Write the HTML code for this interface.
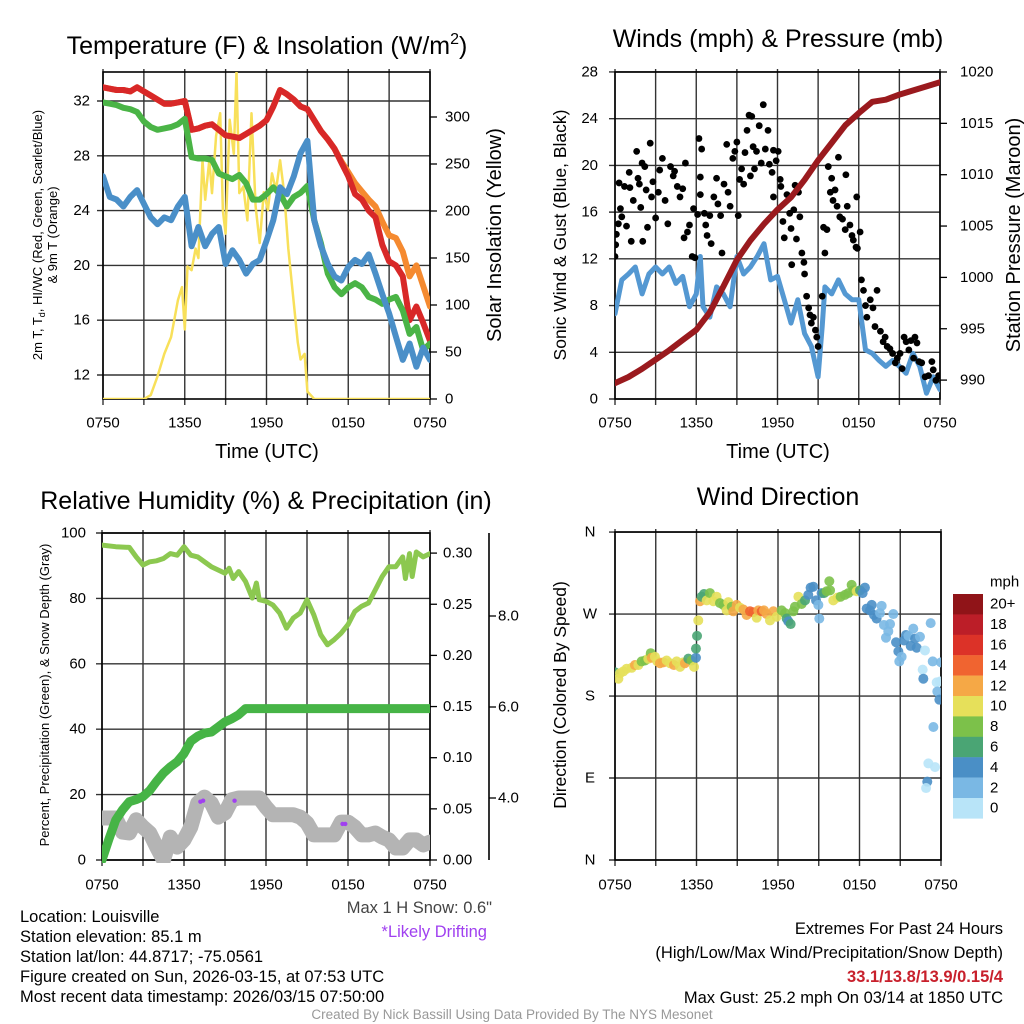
<!DOCTYPE html>
<html><head><meta charset="utf-8"><style>
body{margin:0;background:#fff}
svg{display:block;font-family:"Liberation Sans",sans-serif}
</style></head><body>
<svg id="fig" width="1024" height="1024" viewBox="0 0 1024 1024">
<defs>
<clipPath id="c1"><rect x="103" y="72" width="327" height="327"/></clipPath>
<clipPath id="c2"><rect x="615" y="72" width="325" height="327"/></clipPath>
<clipPath id="c3"><rect x="102" y="533" width="328" height="330"/></clipPath>
<clipPath id="c4"><rect x="615" y="532" width="326" height="328"/></clipPath>
</defs>
<g font-size="25" text-anchor="middle" fill="#000">
<text x="267" y="54">Temperature (F) &amp; Insolation (W/m<tspan font-size="16" dy="-10">2</tspan><tspan dy="10">)</tspan></text>
<text x="778" y="47">Winds (mph) &amp; Pressure (mb)</text>
<text x="266" y="509">Relative Humidity (%) &amp; Precipitation (in)</text>
<text x="778" y="505">Wind Direction</text>
</g>
<g font-size="20" text-anchor="middle">
<text x="267" y="458">Time (UTC)</text>
<text x="778" y="458">Time (UTC)</text>
<text transform="translate(501,235) rotate(-90)">Solar Insolation (Yellow)</text>
<text transform="translate(1020,235) rotate(-90)">Station Pressure (Maroon)</text>
<text transform="translate(566,235) rotate(-90)" font-size="17.5">Sonic Wind &amp; Gust (Blue, Black)</text>
<text transform="translate(566,695) rotate(-90)" font-size="17.5">Direction (Colored By Speed)</text>
</g>
<g font-size="13" text-anchor="middle">
<text transform="translate(42,235) rotate(-90)">2m T, T<tspan font-size="9" dy="3">d</tspan><tspan dy="-3">, HI/WC (Red, Green, Scarlet/Blue)</tspan></text>
<text transform="translate(57,235) rotate(-90)">&amp; 9m T (Orange)</text>
<text transform="translate(49,695) rotate(-90)">Percent, Precipitation (Green), &amp; Snow Depth (Gray)</text>
</g>
<g id="layer"></g>
<g font-size="16.5" fill="#000">
<text x="20" y="922">Location: Louisville</text>
<text x="20" y="942">Station elevation: 85.1 m</text>
<text x="20" y="962">Station lat/lon: 44.8717; -75.0561</text>
<text x="20" y="982">Figure created on Sun, 2026-03-15, at 07:53 UTC</text>
<text x="20" y="1002">Most recent data timestamp: 2026/03/15 07:50:00</text>
</g>
<text x="492" y="913" font-size="16.5" fill="#444" text-anchor="end">Max 1 H Snow: 0.6"</text>
<text x="487" y="937" font-size="16.5" fill="#a040f0" text-anchor="end">*Likely Drifting</text>
<g font-size="16.5" text-anchor="end">
<text x="1003" y="934">Extremes For Past 24 Hours</text>
<text x="1003" y="958">(High/Low/Max Wind/Precipitation/Snow Depth)</text>
<text x="1003" y="982" fill="#c8202c" font-weight="bold">33.1/13.8/13.9/0.15/4</text>
<text x="1003" y="1003">Max Gust: 25.2 mph On 03/14 at 1850 UTC</text>
</g>
<text x="512" y="1019" font-size="13.5" fill="#999" text-anchor="middle">Created By Nick Bassill Using Data Provided By The NYS Mesonet</text>
</svg>
<script>
// ---------- data ----------
const hours=[0,0.5,1,1.5,2,2.5,3,3.5,4,4.5,5,5.5,6,6.5,7,7.5,8,8.5,9,9.5,10,10.5,11,11.5,12,12.5,13,13.5,14,14.5,15,15.5,16,16.5,17,17.5,18,18.5,19,19.5,20,20.5,21,21.5,22,22.5,23,23.5,24];
const xTickLabels=["0750","1350","1950","0150","0750"];
const tempRed=[33.0,32.9,32.8,32.8,32.7,33.0,32.7,32.4,32.1,31.8,31.8,31.9,32.0,29.9,30.0,30.2,30.3,29.9,29.5,29.4,29.3,29.6,29.9,30.2,30.6,31.6,32.8,32.5,32.1,31.6,31.4,30.6,29.8,29.2,28.5,27.5,26.5,25.2,24.8,24.0,23.5,21.5,20.3,20.0,19.2,16.0,17.0,15.8,14.5];
const temp9m=[33.0,32.9,32.8,32.8,32.7,33.0,32.7,32.4,32.1,31.8,31.8,31.9,32.0,29.9,30.0,30.2,30.3,29.9,29.5,29.4,29.3,29.6,29.9,30.2,30.6,31.6,32.8,32.5,32.1,31.6,31.4,30.6,29.8,29.2,28.5,27.6,26.8,26.0,25.4,24.8,24.3,23.2,22.2,22.0,21.0,19.2,20.0,18.5,17.0];
const dewGreen=[31.9,31.8,31.7,31.5,31.4,31.2,30.5,30.1,29.9,30.0,30.1,30.3,30.7,27.9,27.8,27.8,27.7,26.7,26.5,26.3,26.6,26.0,24.8,24.8,25.2,25.7,25.2,24.3,25.0,25.3,25.8,23.3,21.6,19.4,18.4,17.9,18.4,18.7,18.4,17.7,17.5,17.2,17.5,17.7,16.7,15.0,15.5,13.8,14.3];
const hiwcBlue=[26.5,25.0,24.8,24.3,25.0,25.5,24.5,23.5,23.0,23.5,23.3,24.3,25.0,21.4,22.8,21.4,22.3,22.8,20.1,21.1,20.4,19.4,20.1,20.4,21.8,23.3,25.7,25.2,26.5,28.2,29.1,23.3,21.4,20.1,19.2,18.9,19.9,20.4,20.1,20.8,19.4,17.9,16.5,14.8,13.1,14.3,12.6,14.0,13.1];
const insTimes=[0,3,3.5,4,4.5,5,5.5,5.8,6,6.2,6.5,6.8,7,7.3,7.5,7.8,8,8.3,8.6,8.8,9,9.3,9.6,9.8,10,10.3,10.6,10.9,11.2,11.5,11.8,12.1,12.4,12.7,13,13.3,13.6,14,14.3,14.5,14.8,15,15.5,24];
const insolation=[0,0,4,24,48,66,105,119,74,141,137,160,150,254,212,254,219,280,304,200,176,297,261,348,219,226,190,304,205,166,220,201,240,222,254,219,160,102,60,42,48,8,0,0];
const tempTicks=[12,16,20,24,28,32];
const insTicks=[0,50,100,150,200,250,300];

const presHours=[0,1,2,3,4,5,6,7,8,9,10,11,12,13,14,15,16,17,18,19,20,21,22,23,24];
const pressure=[989.7,990.3,991.1,992.0,992.9,993.9,994.9,996.6,999.1,1001.7,1003.6,1005.2,1006.6,1007.8,1009.5,1011.4,1013.1,1014.8,1016.0,1017.1,1017.3,1017.8,1018.2,1018.6,1019.0];
const windHours=[0,0.5,1,1.5,2,2.5,3,3.5,4,4.5,5,5.5,6,6.3,6.5,7,7.5,8,8.5,9,9.5,10,10.5,11,11.5,12,12.5,13,13.5,14,14.5,15,15.3,15.5,16,16.5,17,17.5,18,18.5,19,19.5,20,20.5,21,21.5,22,22.5,23,23.5,24];
const windSpeed=[7.3,10.2,10.7,11.3,9.0,10.7,11.3,10.7,11.3,9.9,10.5,7.9,9.0,12.2,7.9,7.0,9.6,9.0,7.9,12.2,10.7,11.3,12.2,13.3,10.2,10.5,8.5,6.5,8.5,5.6,4.5,1.9,6.2,9.6,9.0,10.2,9.0,8.5,8.5,4.2,3.9,3.3,2.8,3.3,2.8,2.2,3.9,2.8,0.5,1.9,0.8];
const gustTimes=[0,0.05,0.1,0.25,0.3,0.4,0.5,0.7,0.85,1.05,1.1,1.2,1.35,1.6,1.7,1.8,1.9,2,2.05,2.2,2.3,2.4,2.6,2.7,2.8,3.0,3.2,3.3,3.5,3.7,3.9,4.1,4.3,4.4,4.6,4.8,5,5.2,5.1,5.35,5.5,5.7,5.8,5.9,6.1,6.2,6.4,6.3,6.3,6.6,6.7,6.8,7,7.1,7.3,7.5,7.6,7.8,7.9,8.05,8.25,8.35,8.5,8.7,8.85,9,9.1,9.2,9.35,9.5,9.6,9.75,9.9,10.1,10,10.2,10.3,10.45,10.65,10.8,10.95,11.1,11.3,11.4,11.6,11.7,11.9,12.05,12.2,12.25,11.7,12.4,12.5,12.7,12.9,13,13.05,13.2,13.3,13.4,13.55,13.65,13.8,13.95,14,14.15,14.3,14.4,14.5,14.65,14.8,14.9,15,15.3,15.4,15.5,15.65,15.75,15.9,16,16.1,16.25,16.4,16.5,16.6,16.8,17,17.05,17.15,17.35,17.5,17.6,17.8,17.85,17.9,18.1,18.2,18.35,18.5,18.6,18.85,19.05,19.2,19.35,19.6,19.8,19.95,20.1,20.3,20.5,20.7,20.85,21.05,21.2,21.35,21.5,21.7,21.85,22.05,22.15,22.3,22.45,22.65,22.9,23.15,23.4,23.5,23.7,23.9];
const gustSpeed=[12.2,13.2,14.1,15,18.5,16.3,15.6,18.2,14.8,19.4,18.1,13.5,17,21.2,18.9,18.4,16.4,20.2,13.5,19.9,17.9,14.7,21.9,17.3,18.6,15.5,17.7,19.6,20.6,17,15,19.9,19.1,19.5,18.2,17.3,18,20.2,13.8,14.3,14.9,12.2,16.3,12.1,15.8,22.3,21.4,19,17.5,15.9,14.9,14,15.7,13.3,17.3,18.9,16.7,15.7,12.5,18.4,21.8,17.7,16.5,20.6,21.2,22,15.7,18.8,19.7,18.4,21.1,23,24.3,24.2,19.1,21.6,19.7,21.2,23.4,20.2,25.2,21.4,23,20.1,19.4,21.3,20.4,21.2,18.8,18.2,17.3,15.2,13.8,17.5,15.9,14.6,11.5,16.2,18.3,13.7,17.7,15.6,12.5,11.7,10.7,8.8,7.8,7.2,6.5,7,5.9,5.3,4.5,8.8,14.7,12.5,14.5,19.9,17.7,18.9,17,17.9,16.5,20.7,15.6,15.4,14.5,19.2,16.5,14.9,14,13.6,13,17.3,12.9,14.3,10.2,9.3,8,7,8.5,7.8,6.2,9.3,5.8,4.9,5.3,4.5,4.3,3.9,3.1,3.5,3.9,2.6,5.3,4.9,4.2,5,3.5,5.3,4.8,3.2,3.1,1.9,2,3.2,2.5,1.6,2];
const windTicks=[0,4,8,12,16,20,24,28];
const presTicks=[990,995,1000,1005,1010,1015,1020];

const rhHours=[0,1,2,2.5,3,3.5,4,4.5,5,5.5,6,6.5,7,7.5,8,8.5,9,9.3,9.6,10,10.5,11,11.3,11.5,12,12.5,13,13.5,14,14.5,15,15.5,16,16.5,17,17.5,18,18.5,19,19.5,20,20.5,21,21.5,22,22.2,22.5,22.7,23,23.5,24];
const humidity=[96.3,95.8,95.6,92.7,90.2,91.2,91.5,92.2,93.7,93.2,95.8,93.2,92.7,91.2,89.7,88.7,87.7,89.2,86.1,88.2,85.2,80.1,84.7,79.6,79.1,78,75.5,70.9,74,75.5,79.6,75,68.9,65.8,67.4,69.4,72,76,77.6,78.6,82.6,86.7,89.7,89.7,92.7,86.1,93.7,86.7,94.2,92.7,93.7];
const precipHours=[0,0.5,1,1.5,2,2.5,3,3.5,4,4.5,5,5.5,6,6.5,7,7.5,8,8.5,9,9.5,10,10.5,24];
const precip=[0,0.02,0.039,0.049,0.057,0.059,0.062,0.068,0.077,0.085,0.091,0.096,0.104,0.116,0.121,0.124,0.125,0.13,0.135,0.138,0.142,0.148,0.148];
const snowDepth=[3.56,3.56,3.56,3.25,3.23,3.52,3.36,3.23,2.92,2.64,3.14,2.92,3.08,3.36,3.89,4.02,3.89,3.58,3.67,3.96,4.0,4.0,4.0,4.0,3.8,3.63,3.63,3.63,3.63,3.58,3.45,3.19,3.19,3.19,3.19,3.47,3.47,3.36,3.19,3.19,3.23,3.14,3.08,2.90,2.90,3.08,3.08,2.97,3.03];
const driftTimes=[7.2,7.4,9.7,17.6,17.8];
const driftDepth=[3.92,3.94,3.94,3.43,3.43];
const rhTicks=[0,20,40,60,80,100];
const precipTicks=[0,0.05,0.10,0.15,0.20,0.25,0.30];
const snowTicks=[4,6,8];

const dirTimes=[0,.25,.37,.61,.86,1.23,1.47,1.72,1.96,2.21,2.45,2.63,2.70,2.94,3.12,3.31,3.56,3.80,4.05,4.34,4.54,4.79,5.03,5.15,5.40,5.64,5.82,5.96,5.96,6.04,6.13,6.26,6.38,6.55,6.75,6.99,7.24,7.48,7.73,7.98,8.22,8.34,8.59,8.71,8.96,9.20,9.45,9.69,9.94,10.18,10.43,10.55,10.80,10.97,11.17,11.41,11.66,11.90,12.27,12.52,12.64,12.76,12.93,13.13,13.25,13.50,13.74,13.99,14.23,14.40,14.60,14.80,14.97,15.04,15.21,15.39,15.58,15.78,15.83,16.07,16.37,16.61,16.93,17.18,17.42,17.55,17.79,18.04,18.23,18.40,18.53,18.77,18.90,19.07,19.26,19.51,19.63,19.80,19.95,20.12,20.25,20.49,20.69,20.86,20.93,21.10,21.28,21.42,21.60,21.77,21.96,22.09,22.21,22.45,22.82,22.65,22.70,23.24,23.39,23.68,23.93,23.73,23.88,24.0,23.44,23.07,23.56,22.99,22.90];
const dirDegrees=[206,199,205,207,210,211,214,214,218,219,221,227,222,223,218,216,217,219,216,214,218,212,217,216,221,219,212,222,232,246,263,284,289,292,285,293,284,289,282,280,274,283,278,273,280,277,275,269,273,272,266,274,273,274,270,263,273,267,274,271,265,262,259,273,278,289,281,285,291,299,300,285,280,265,293,293,295,306,296,285,288,289,291,293,302,296,295,296,293,299,276,274,280,269,265,271,279,258,244,251,259,270,239,229,218,223,241,247,246,235,254,243,233,245,230,209,199,260,218,195,196,185,176,217,146,106,102,86,79];
const dirSpeeds=[6,10,10,10,10,10,12,10,8,8,10,8,12,10,10,12,12,10,10,12,10,10,10,12,6,8,10,4,6,6,10,12,6,6,10,8,10,10,8,8,10,10,8,12,12,10,12,12,14,14,10,12,14,12,12,10,12,10,8,8,6,4,6,8,8,10,8,6,4,4,4,4,2,2,4,6,8,8,8,10,10,8,8,8,8,8,10,6,4,4,4,4,4,4,4,2,2,2,2,2,2,2,4,4,2,2,4,4,2,4,2,4,4,2,0,0,4,2,2,0,0,2,4,2,2,0,0,4,0];
const dirTickLabels=["N","E","S","W","N"];
const dirTickDegrees=[0,90,180,270,360];
const speedBinLabels=["20+","18","16","14","12","10","8","6","4","2","0"];

// ---------- rendering ----------
const NS="http://www.w3.org/2000/svg";
const layer=document.getElementById('layer');
const speedColors=["#b8e4f8","#7ab8e4","#4a8fc6","#4aa574","#7cc14a","#e6e05a","#f5a846","#f06430","#dc3228","#bc1e28","#901418"];
function mk(tag,attrs,parent){const e=document.createElementNS(NS,tag);for(const k in attrs)e.setAttribute(k,attrs[k]);(parent||layer).appendChild(e);return e;}
function txt(x,y,s,size,anchor,parent){const e=mk('text',{x:x,y:y,'font-size':size,'text-anchor':anchor,'dominant-baseline':'central'},parent);e.textContent=s;return e;}
function pathD(ts,vs,fx,fy){return ts.map((t,i)=>(i?'L':'M')+fx(t).toFixed(1)+','+fy(vs[i]).toFixed(1)).join('');}

const panels=[
 {name:'temp',x0:103,x1:430,y0:72,y1:399,lab:423},
 {name:'wind',x0:615,x1:940,y0:72,y1:399,lab:423},
 {name:'humidity',x0:102,x1:430,y0:533,y1:860,lab:885},
 {name:'direction',x0:615,x1:941,y0:532,y1:860,lab:885}
];
function xs(p){return t=>p.x0+t*(p.x1-p.x0)/24;}
const X=panels.map(xs);
const yT=v=>101+(32-v)*13.7, yI=w=>399-w*0.94;
const yW=v=>399-v*11.68, yP=p=>72+(1020-p)*10.27;
const yR=v=>860-v*3.27, yPr=p=>860-p*1023, yS=s=>798-(s-4)*45.5;
const yD=d=>860-d*0.911;
const hGrid=[tempTicks.map(yT),windTicks.map(yW),rhTicks.map(yR),dirTickDegrees.map(yD)];

panels.forEach((p,pi)=>{
  const g=mk('g',{});
  
  
  for(let h=0;h<=24;h+=3){const x=X[pi](h);
    const l=mk('line',{x1:x,x2:x,y1:p.y0-3,y2:p.y1+6,stroke:'#333','stroke-width':1.4},g);
    
    
  }
  hGrid[pi].forEach(y=>{
    const l=mk('line',{x1:p.x0-6,x2:p.x1,y1:y,y2:y,stroke:'#333','stroke-width':1.4},g);
    
    
  });
  const r=mk('rect',{x:p.x0,y:p.y0,width:p.x1-p.x0,height:p.y1-p.y0,fill:'none',stroke:'#000','stroke-width':1.6},g);
  
  
  xTickLabels.forEach((s,i)=>{
    const t=txt(X[pi](i*6),p.lab,s,15,'middle',g);
    
    
  });
});

function yLabels(vals,fy,x,anchor,fmt,name,tickX,tickLen){
  vals.forEach(v=>{
    const t=txt(x,fy(v),fmt(v),15,anchor);
    
    
    if(tickX!==undefined){const l=mk('line',{x1:tickX,x2:tickX+tickLen,y1:fy(v),y2:fy(v),stroke:'#000','stroke-width':1.3});
      
      }
  });
}
yLabels(tempTicks,yT,90,'end',v=>String(v),'temp-y-tick-label');
yLabels(insTicks,yI,445,'start',v=>String(v),'insolation-y-tick-label',430,7);
yLabels(windTicks,yW,598,'end',v=>String(v),'wind-y-tick-label');
yLabels(presTicks,yP,960,'start',v=>String(v),'pressure-y-tick-label',940,7);
yLabels(rhTicks,yR,86,'end',v=>String(v),'humidity-y-tick-label');
yLabels(precipTicks,yPr,443,'start',v=>v.toFixed(2),'precip-y-tick-label',430,7);
yLabels(snowTicks,yS,498,'start',v=>v.toFixed(1),'snow-y-tick-label',489,7);
dirTickLabels.forEach((s,i)=>{const t=txt(590,yD(dirTickDegrees[i]),s,15,'middle');
  
  });
const sa=mk('line',{x1:489,x2:489,y1:533,y2:860,stroke:'#000','stroke-width':1.6});



function line(clip,ts,vs,fx,fy,color,w,name){
  const e=mk('path',{d:pathD(ts,vs,fx,fy),fill:'none',stroke:color,'stroke-width':w,'stroke-linejoin':'round','stroke-linecap':'round','clip-path':'url(#'+clip+')'});
  
  
  return e;
}
line('c1',insTimes,insolation,X[0],yI,'#f8e05a',2.5,'insolation-line');
line('c1',hours,temp9m,X[0],yT,'#f58a30',6,'temp-9m-line');
line('c1',hours,tempRed,X[0],yT,'#d82828',6,'temp-2m-line');
line('c1',hours,dewGreen,X[0],yT,'#4ab446',6,'dewpoint-line');
line('c1',hours,hiwcBlue,X[0],yT,'#4a8fc8',6,'heat-index-windchill-line');
line('c2',windHours,windSpeed,X[1],yW,'#5498d2',5,'sonic-wind-line');
gustTimes.forEach((t,i)=>{
  const c=mk('circle',{cx:X[1](t),cy:yW(gustSpeed[i]),r:3.4,fill:'#000','clip-path':'url(#c2)'});
  
  
});
line('c2',presHours,pressure,X[1],yP,'#9a1a1e',6,'pressure-line');
line('c3',rhHours,humidity,X[2],yR,'#8cc850',5,'humidity-line');
line('c3',hours,snowDepth,X[2],yS,'#b4b4b4',15,'snow-depth-line');
line('c3',precipHours,precip,X[2],yPr,'#46b446',9,'precipitation-line');
driftTimes.forEach((t,i)=>{
  const c=mk('circle',{cx:X[2](t),cy:yS(driftDepth[i]),r:2.2,fill:'#a040f0'});
  
  
});
dirTimes.forEach((t,i)=>{
  const bin=Math.min(10,Math.floor(dirSpeeds[i]/2));
  const c=mk('circle',{cx:X[3](t),cy:yD(dirDegrees[i]),r:5,fill:speedColors[bin],'fill-opacity':0.9,'clip-path':'url(#c4)'});
  
  
});
const cb=mk('g',{});


speedBinLabels.forEach((s,i)=>{
  const y=594+i*20.4;
  const r=mk('rect',{x:953,y:y,width:30,height:20.6,fill:speedColors[10-i]},cb);
  
  
  const t=txt(990,y+10.2,s,15,'start',cb);
  
  
});
const mph=txt(990,582,'mph',15,'start',cb);


</script>
</body></html>
